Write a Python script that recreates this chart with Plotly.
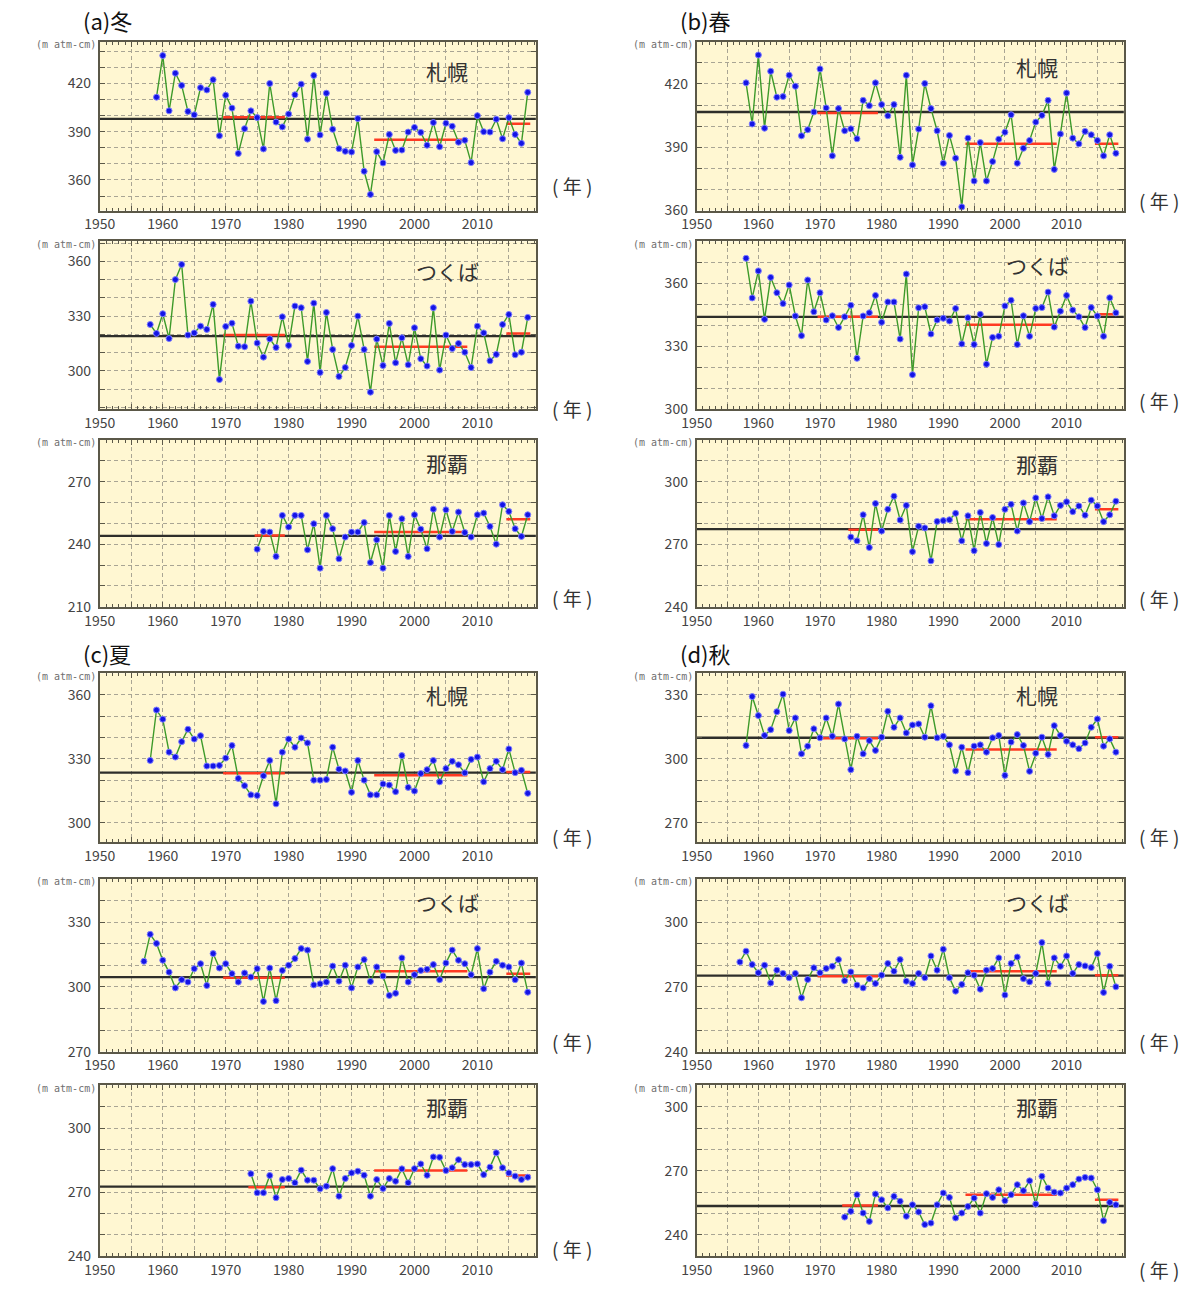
import plotly.graph_objects as go

# ---------------- data (total ozone, m atm-cm) ----------------
a_sap_start = 1959
a_sap = [411.5, 437.4, 403, 426.4, 418.8, 402.6, 400.5, 417.4, 416, 422.4,
         387.5, 412.7, 404.7, 376.5, 391.9, 403, 398.8, 379.3, 420, 396,
         393, 401, 413, 419.6, 385.4, 425, 388, 414, 391.5, 379.5,
         377.8, 377.4, 398.2, 365.4, 351, 377.6, 370.6, 388.3, 378.4, 378.6,
         389.8, 392.7, 389.6, 381.6, 395.7, 380.7, 395.3, 393.4, 383.5, 384.7,
         370.8, 400, 390, 389.8, 397.8, 385.6, 398.8, 388.3, 382.8, 414.5]
a_tsu_start = 1958
a_tsu = [325.4, 320.5, 331.3, 317.7, 350, 358.3, 319.6, 320.8, 324.5, 322.7,
         336.4, 295.2, 324.3, 326.1, 313.5, 313.2, 338.2, 315.2, 307.5, 317.5,
         312.8, 329.6, 313.9, 335.5, 334.6, 305.1, 337.1, 299.1, 332, 311.7,
         296.9, 301.8, 313.9, 330, 311.7, 288.3, 317.4, 302.9, 326, 304.4,
         318.1, 303.3, 323.6, 306.6, 302.6, 334.6, 300.4, 319.6, 312.2, 315,
         310.2, 301.8, 324.5, 320.8, 305.5, 309, 325.4, 330.9, 308.8, 310.2, 329.3]
a_nah_start = 1975
a_nah = [237.6, 246.1, 245.8, 234.1, 253.8, 248.2, 253.8, 253.8, 237.3, 249.8,
         228.5, 253.8, 247.4, 233, 243.4, 245.8, 245.8, 250.4, 231.2, 242.1,
         228.5, 253.8, 236.5, 252.2, 234.1, 254.1, 247.2, 237.8, 256.8, 243.4,
         256.5, 246.1, 255.4, 245.6, 243.4, 254.1, 254.9, 248.5, 240, 258.9,
         255.7, 247.4, 243.7, 254.1]

b_sap_start = 1958
b_sap = [420.5, 401, 433.7, 399, 426, 413.7, 414, 424.1, 418.9, 395.4,
         398.3, 406.7, 427.1, 408.6, 385.9, 408.3, 397.8, 398.7, 394, 412.2,
         409.7, 420.5, 410.2, 404.9, 410.2, 385.2, 424.1, 381.6, 398.6, 420.2,
         408.3, 397.8, 382.4, 395.6, 384.8, 361.7, 394.3, 374, 392.2, 374,
         383.2, 393.8, 397.1, 405.4, 382.4, 389.5, 393.2, 401.9, 405.1, 412.2,
         379.5, 396.3, 415.7, 394.3, 391.6, 397.5, 395.9, 393.2, 385.9, 395.9, 387.1]
b_tsu_start = 1958
b_tsu = [371.9, 353, 365.9, 342.8, 362.8, 355.5, 350.3, 359.2, 344.4, 335,
         361.6, 346.4, 355.5, 342.5, 344.5, 338.9, 344, 349.5, 324.2, 344.4,
         345.9, 354.2, 341.4, 351.1, 351.1, 333.4, 364.4, 316.4, 348.3, 348.8,
         335.8, 342.5, 343.3, 342, 348, 331.1, 343.6, 330.8, 345.2, 321.4,
         334.2, 334.7, 349.2, 351.9, 330.8, 344.5, 334.7, 348, 348.4, 355.8,
         339.1, 346.7, 354.2, 347.2, 344, 338.9, 348.4, 344.4, 334.7, 353.1, 345.9]
b_nah_start = 1975
b_nah = [273.4, 271.6, 284.1, 268.4, 289.5, 276.3, 286.7, 293, 281.6, 288.6,
         266.4, 278.6, 277.8, 262, 280.9, 281.3, 281.7, 284.8, 271.6, 283.6,
         266.9, 285.2, 270.3, 282.8, 269.8, 286.7, 289.1, 276.3, 289.8, 280.8,
         292.2, 282.3, 292.7, 283.6, 288.6, 290.3, 285.6, 288.3, 283.9, 291.1,
         288.3, 280.8, 284.1, 290.6]

c_sap_start = 1958
c_sap = [329.2, 352.8, 348.5, 333.1, 330.8, 338, 343.8, 339.2, 340.8, 326.6,
         326.6, 326.9, 330.3, 336.2, 320.8, 317.4, 313.1, 312.8, 322, 329.2,
         308.9, 333.1, 339.2, 335.4, 339.7, 337.4, 320, 320, 320.3, 335.4,
         325.1, 324.3, 314.3, 329.2, 320, 313.1, 313.1, 318.2, 317.7, 314.6,
         331.5, 316.6, 314.9, 323.1, 324.9, 329.2, 319.2, 325.4, 328.8, 327.2,
         323.4, 329.7, 330.8, 319.2, 325.4, 328.8, 324.9, 334.6, 323.5, 324.6, 313.8]
c_tsu_start = 1957
c_tsu = [311.8, 324.3, 320.1, 312.3, 306.8, 299.5, 303.3, 302.2, 308.4, 310.7,
         300.6, 315.4, 308.7, 310.7, 306.1, 302.2, 306.4, 304.5, 308.4, 293.2,
         308.7, 293.6, 307.6, 310, 313.1, 317.7, 317, 300.9, 301.4, 302.2,
         309.6, 302.6, 310, 299.5, 309.2, 312.6, 302.5, 309.2, 305, 296,
         297, 313.4, 302.2, 305.6, 307.6, 308.1, 310.3, 303.3, 311, 317,
         312.3, 310.7, 305.6, 317.7, 299.1, 306.8, 311.8, 310, 309.2, 303.3, 311, 297.5]
c_nah_start = 1974
c_nah = [278.6, 269.7, 269.7, 277.8, 267.4, 275.9, 276.4, 274.4, 280.3, 275.6,
         275.6, 271.6, 272.8, 281, 268.1, 276.4, 279, 279.8, 277.9, 268.1,
         275.9, 271.7, 276.4, 275.1, 280.9, 274.4, 281, 283.2, 277.9, 286.5,
         286.3, 280.1, 281.4, 285.2, 282.9, 282.9, 283.2, 278.2, 281.7, 288.4,
         281.4, 279, 277.5, 275.9, 277]

d_sap_start = 1958
d_sap = [306.2, 329.1, 320.2, 310.9, 313.6, 322, 330.2, 313.2, 319.1, 302.3,
         305.9, 314, 309.8, 319.1, 310.5, 325.6, 309.3, 294.9, 310.5, 302.3,
         308.5, 303.9, 310.1, 322.2, 314.7, 319.1, 312.1, 315.8, 316.3, 310.1,
         324.8, 309.8, 310.5, 306.5, 294.3, 305.4, 293.5, 305.9, 306.5, 303.1,
         309.8, 310.9, 292.2, 307.8, 311.3, 306.2, 294.1, 302.6, 310.1, 302,
         315.5, 310.9, 308.2, 306.5, 304.7, 307.4, 314.7, 318.6, 305.9, 309.3, 303.1]
d_tsu_start = 1957
d_tsu = [281.5, 286.5, 280.3, 276.5, 280, 271.8, 277.7, 276.2, 274.2, 276.2,
         264.9, 273.4, 278.8, 276.5, 278.5, 279.5, 282.6, 272.8, 276.9, 270.8,
         269.5, 273.8, 271.5, 275.4, 280.8, 277.2, 282.6, 272.6, 271.5, 276.2,
         274.2, 284.3, 277.7, 287.4, 274.2, 268, 271.1, 276.5, 275.4, 268.9,
         277.7, 278.5, 283.4, 266.2, 280.8, 283.8, 273.8, 272.3, 276.2, 290.5,
         271.5, 283.4, 279.5, 284.3, 276.2, 280.3, 279.7, 278.9, 285.4, 267.4, 279.5, 270]
d_nah_start = 1974
d_nah = [248.3, 251, 258.8, 250.2, 246.3, 259.1, 256.4, 252.6, 258, 255.7,
         248.7, 254.1, 250.7, 244.8, 245.5, 254.1, 259.6, 257.5, 247.9, 250.2,
         253.3, 257.2, 250.2, 259.3, 257.5, 261.1, 256, 258.8, 263.5, 260.7,
         265.3, 254.4, 267.4, 261.9, 260, 259.6, 261.9, 263.5, 266.1, 266.9,
         266.6, 261.1, 246.6, 255.2, 254.1]

# long-term reference (black line) per panel
normals = {"a_sap": 398, "a_tsu": 319, "a_nah": 244,
           "b_sap": 406.7, "b_tsu": 344, "b_nah": 277.2,
           "c_sap": 323.5, "c_tsu": 304.5, "c_nah": 272.6,
           "d_sap": 309.8, "d_tsu": 275.2, "d_nah": 253.5}

# period means (red segments): (start year, end year, value)
period_means = {
    "a_sap": [(1970, 1979, 399), (1994, 2008, 385), (2015, 2018, 395)],
    "a_tsu": [(1970, 1979, 319.6), (1994, 2008, 313.2), (2015, 2018, 320.5)],
    "a_nah": [(1975, 1979, 244.2), (1994, 2008, 245.8), (2015, 2018, 252)],
    "b_sap": [(1970, 1979, 406.2), (1994, 2008, 391.6), (2015, 2018, 391.6)],
    "b_tsu": [(1970, 1979, 344), (1994, 2008, 340.2), (2015, 2018, 345.2)],
    "b_nah": [(1975, 1979, 276.9), (1994, 2008, 282), (2015, 2018, 286.7)],
    "c_sap": [(1970, 1979, 323.2), (1994, 2008, 322.3), (2015, 2018, 323.8)],
    "c_tsu": [(1970, 1979, 304.2), (1994, 2008, 307.2), (2015, 2018, 306)],
    "c_nah": [(1974, 1979, 272.3), (1994, 2008, 280.1), (2015, 2018, 277.8)],
    "d_sap": [(1970, 1979, 309.6), (1994, 2008, 304.3), (2015, 2018, 310.1)],
    "d_tsu": [(1970, 1979, 274.9), (1994, 2008, 277.2), (2015, 2018, 275.4)],
    "d_nah": [(1974, 1979, 253.8), (1994, 2008, 258.8), (2015, 2018, 256.4)],
}

stations = ["札幌", "つくば", "那覇"]
season_titles = ["(a)冬", "(b)春", "(c)夏", "(d)秋"]
x_labels = [1950, 1960, 1970, 1980, 1990, 2000, 2010]

# ---------------- layout geometry (pixels) ----------------
W, H = 1190, 1292
COLS = [(85, 527), (690, 1123)]
ROWS = [(42, 212), (243, 412), (443, 611), (678, 848), (885, 1059), (1093, 1265)]
XR = [1950, 2019.3]

panels = [
    # key, col, row, station idx, start, values, y range, station label y, 年 y
    ("a_sap", 0, 0, 0, a_sap_start, a_sap, (341, 446), 72, 187),
    ("a_tsu", 0, 1, 1, a_tsu_start, a_tsu, (279, 371), 273, 411),
    ("a_nah", 0, 2, 2, a_nah_start, a_nah, (210, 290), 466, 602),
    ("b_sap", 1, 0, 0, b_sap_start, b_sap, (360, 440), 67, 202),
    ("b_tsu", 1, 1, 1, b_tsu_start, b_tsu, (300, 380), 267, 403),
    ("b_nah", 1, 2, 2, b_nah_start, b_nah, (240, 320), 467, 603),
    ("c_sap", 0, 3, 0, c_sap_start, c_sap, (291, 370), 700, 842),
    ("c_tsu", 0, 4, 1, c_tsu_start, c_tsu, (270, 350), 908, 1049),
    ("c_nah", 0, 5, 2, c_nah_start, c_nah, (240, 320), 1115, 1257),
    ("d_sap", 1, 3, 0, d_sap_start, d_sap, (261, 340), 700, 842),
    ("d_tsu", 1, 4, 1, d_tsu_start, d_tsu, (240, 320), 908, 1049),
    ("d_nah", 1, 5, 2, d_nah_start, d_nah, (230, 310), 1115, 1278),
]

BORDER = "#5b5848"
GRID = "#a9a594"
TICKFONT = dict(family="Noto Sans CJK JP, sans-serif", size=14, color="#444444")

fig = go.Figure()
layout_axes = {}
annotations = []

for i, (key, col, row, st, start, vals, yr, st_y, nen_y) in enumerate(panels, start=1):
    xa = "x" if i == 1 else f"x{i}"
    ya = "y" if i == 1 else f"y{i}"
    xk = "xaxis" if i == 1 else f"xaxis{i}"
    yk = "yaxis" if i == 1 else f"yaxis{i}"
    x0, x1 = COLS[col]
    y0, y1 = ROWS[row]

    xtv = list(range(1950, 2020, 5))
    xtt = [str(v) if v in x_labels else "" for v in xtv]
    ylo = int(yr[0] // 10 * 10)
    ytv = [v for v in range(ylo, int(yr[1]) + 10, 10) if yr[0] - 0.01 <= v <= yr[1]]
    ytt = [str(v) if v % 30 == 0 else "" for v in ytv]

    layout_axes[xk] = dict(
        domain=[x0 / W, x1 / W], anchor=ya, range=XR,
        tickmode="array", tickvals=xtv, ticktext=xtt,
        ticks="inside", ticklen=5, tickcolor=BORDER, tickwidth=1,
        showline=True, linecolor=BORDER, linewidth=2, mirror="ticks",
        showgrid=True, gridcolor=GRID, griddash="4px,3px", gridwidth=1,
        zeroline=False, tickfont=TICKFONT,
        minor=dict(tickmode="linear", tick0=1950, dtick=1, ticks="inside",
                   ticklen=3, tickcolor=BORDER, showgrid=False),
        fixedrange=True,
    )
    layout_axes[yk] = dict(
        domain=[1 - y1 / H, 1 - y0 / H], anchor=xa, range=list(yr),
        tickmode="array", tickvals=ytv, ticktext=ytt,
        ticks="inside", ticklen=5, tickcolor=BORDER, tickwidth=1,
        showline=True, linecolor=BORDER, linewidth=2, mirror="ticks",
        showgrid=True, gridcolor=GRID, griddash="4px,3px", gridwidth=1,
        zeroline=False, tickfont=TICKFONT, ticklabelstandoff=4,
        fixedrange=True,
    )

    # black reference line
    n = normals[key]
    fig.add_trace(go.Scatter(x=XR, y=[n, n], mode="lines", xaxis=xa, yaxis=ya,
                             line=dict(color="#2e2e2a", width=2.4),
                             showlegend=False, hoverinfo="skip"))
    # red period means
    for (s, e, v) in period_means[key]:
        fig.add_trace(go.Scatter(x=[s - 0.4, e + 0.4], y=[v, v], mode="lines",
                                 xaxis=xa, yaxis=ya,
                                 line=dict(color="#ff3a22", width=2.5),
                                 showlegend=False, hoverinfo="skip"))
    # series
    years = list(range(start, start + len(vals)))
    fig.add_trace(go.Scatter(x=years, y=vals, mode="lines+markers", xaxis=xa, yaxis=ya,
                             line=dict(color="#3d9a2a", width=1.4),
                             marker=dict(color="#1414e6", size=6,
                                         line=dict(color="#7d7dff", width=1)),
                             showlegend=False))

    # station name
    sx = 437 if col == 0 else 1035
    annotations.append(dict(text=stations[st], x=sx / W, y=1 - st_y / H,
                            xref="paper", yref="paper", showarrow=False,
                            xanchor="center", yanchor="middle",
                            font=dict(family="Noto Sans CJK JP", size=21, color="#333333")))
    # unit label
    annotations.append(dict(text="(m atm-cm)", x=(x0 - 2) / W, y=1 - (y0 + 3) / H,
                            xref="paper", yref="paper", showarrow=False,
                            xanchor="right", yanchor="middle",
                            font=dict(family="DejaVu Sans Mono", size=10, color="#6f6f6f")))
    # 年 label
    nx = 564 if col == 0 else 1159
    annotations.append(dict(text="( 年 )", x=nx / W, y=1 - nen_y / H,
                            xref="paper", yref="paper", showarrow=False,
                            xanchor="center", yanchor="middle",
                            font=dict(family="Noto Sans CJK JP", size=19, color="#333333")))

# season titles
for t, (tx, ty) in zip(season_titles, [(66, 20), (671, 20), (66, 658), (671, 658)]):
    annotations.append(dict(text=t, x=tx / W, y=1 - ty / H, xref="paper", yref="paper",
                            showarrow=False, xanchor="left", yanchor="middle",
                            font=dict(family="Noto Sans CJK JP", size=22, color="#111111")))

fig.update_layout(
    width=W, height=H, margin=dict(l=0, r=0, t=0, b=0),
    paper_bgcolor="white", plot_bgcolor="#fff7d2",
    annotations=annotations, showlegend=False,
    **layout_axes,
)

fig.write_html("out.html",
               config={"displayModeBar": False, "staticPlot": True},
               post_script="document.body.style.margin='0';document.body.style.overflow='hidden';")
